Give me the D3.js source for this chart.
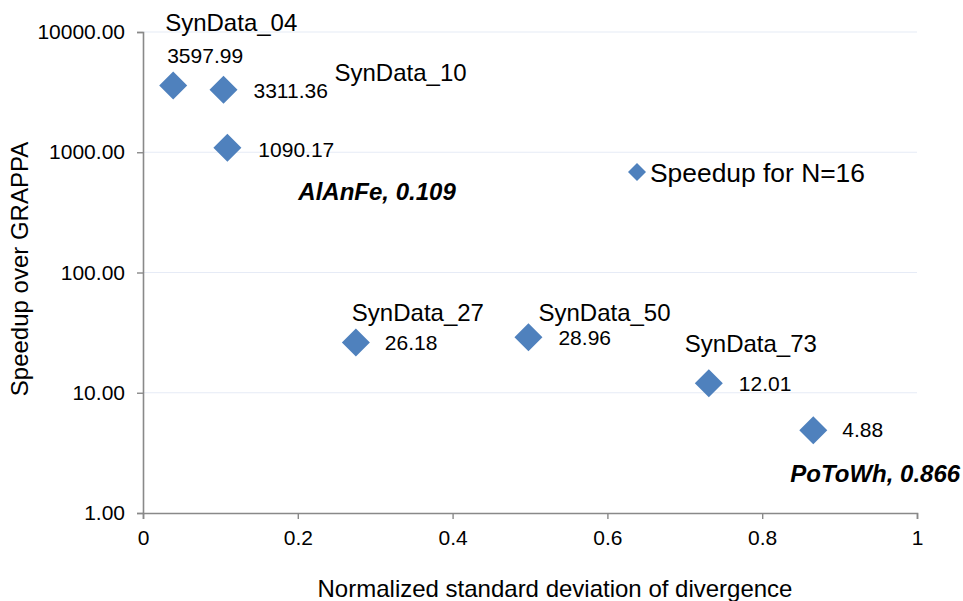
<!DOCTYPE html>
<html>
<head>
<meta charset="utf-8">
<script src="https://cdn.jsdelivr.net/npm/d3@7"></script>
<style>
  html, body { margin: 0; padding: 0; background: #fff; }
  svg { display: block; font-family: "Liberation Sans", Arial, sans-serif; }
</style>
</head>
<body>
<svg id="chart" width="963" height="601"></svg>
<script>
// ---- data ----
const names = ["SynData_04", "SynData_10", "AlAnFe, 0.109", "SynData_27", "SynData_50", "SynData_73", "PoToWh, 0.866"];
const divergence = [0.039, 0.104, 0.109, 0.275, 0.498, 0.731, 0.866];
const speedups = [3597.99, 3311.36, 1090.17, 26.18, 28.96, 12.01, 4.88];
const realDataset = [false, false, true, false, false, false, true];
const yTicks = [1, 10, 100, 1000, 10000];
const xTicks = [0, 0.2, 0.4, 0.6, 0.8, 1];
const xTickLabels = ["0", "0.2", "0.4", "0.6", "0.8", "1"];
const seriesName = "Speedup for N=16";

// ---- layout (label offsets from marker centre) ----
const nameOffsets = [[-8, -54], [111, -9], [71, 52], [-4, -21], [10, -16.5], [-24, -31.5], [-23, 51.5]];
const valueOffsets = [[-6, -22], [30, 8], [31, 9], [29, 8], [30, 8], [30, 8], [29, 7]];

const svg = d3.select("#chart");
const x = d3.scaleLinear().domain([0, 1]).range([143, 917]);
const y = d3.scaleLog().domain([1, 10000]).range([513, 32]);
const blue = "#4F81BD";
const axisColor = "#898989";

// gridlines
svg.append("g").selectAll("line").data(yTicks.slice(1)).join("line")
  .attr("x1", x(0)).attr("x2", x(1))
  .attr("y1", d => y(d)).attr("y2", d => y(d))
  .attr("stroke", "#E6EBF6").attr("stroke-width", 1.2);

// y axis
const yAxis = svg.append("g").attr("transform", `translate(${x(0)},0)`)
  .call(d3.axisLeft(y).tickValues(yTicks).tickFormat(d3.format(".2f")).tickSize(6).tickPadding(12));
// x axis
const xAxis = svg.append("g").attr("transform", `translate(0,${y(1)})`)
  .call(d3.axisBottom(x).tickValues(xTicks).tickFormat((d, i) => xTickLabels[i]).tickSize(6).tickPadding(11));

[yAxis, xAxis].forEach(g => {
  g.select(".domain").attr("stroke", axisColor).attr("stroke-width", 1.6);
  g.selectAll(".tick line").attr("stroke", axisColor).attr("stroke-width", 1.4);
  g.selectAll(".tick text").attr("fill", "#000").style("font-size", "21px")
    .style("font-family", "'Liberation Sans', Arial, sans-serif");
});

// axis titles
svg.append("text")
  .attr("transform", `translate(28,269) rotate(-90)`)
  .attr("text-anchor", "middle")
  .style("font-size", "24px")
  .text("Speedup over GRAPPA");
svg.append("text")
  .attr("x", 555).attr("y", 597)
  .attr("text-anchor", "middle")
  .style("font-size", "24px")
  .text("Normalized standard deviation of divergence");

// markers
const diamond = d3.symbol().type(d3.symbolSquare).size(392);
const pts = divergence.map((d, i) => ({ x: d, y: speedups[i], name: names[i], real: realDataset[i], i }));
svg.append("g").selectAll("path").data(pts).join("path")
  .attr("d", diamond)
  .attr("transform", d => `translate(${x(d.x)},${y(d.y)}) rotate(45)`)
  .attr("fill", blue);

// value labels
svg.append("g").selectAll("text").data(pts).join("text")
  .attr("x", d => x(d.x) + valueOffsets[d.i][0])
  .attr("y", d => y(d.y) + valueOffsets[d.i][1])
  .style("font-size", "21px")
  .text(d => d.y.toFixed(2));

// name labels
svg.append("g").selectAll("text").data(pts).join("text")
  .attr("x", d => x(d.x) + nameOffsets[d.i][0])
  .attr("y", d => y(d.y) + nameOffsets[d.i][1])
  .style("font-size", "24px")
  .style("font-weight", d => d.real ? "bold" : "normal")
  .style("font-style", d => d.real ? "italic" : "normal")
  .text(d => d.name);

// legend
const legend = svg.append("g").attr("transform", "translate(637,172)");
legend.append("path").attr("d", d3.symbol().type(d3.symbolSquare).size(162)()).attr("transform", "rotate(45)").attr("fill", blue);
legend.append("text").attr("x", 13).attr("y", 9.5).style("font-size", "26.4px").text(seriesName);
</script>
</body>
</html>
